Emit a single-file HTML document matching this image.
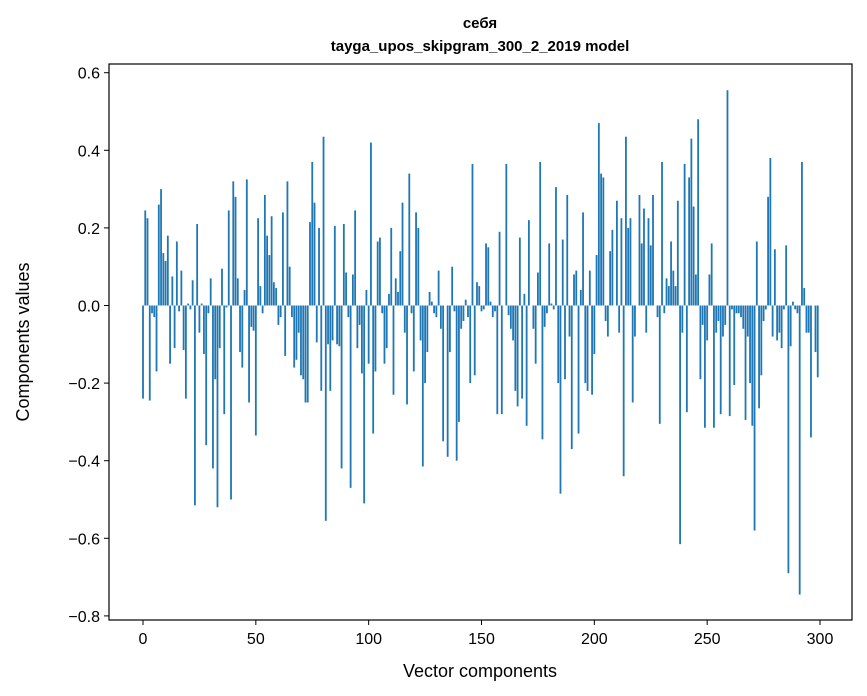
<!DOCTYPE html>
<html><head><meta charset="utf-8"><style>
body{margin:0;background:#fff;}
svg{display:block;font-family:"Liberation Sans","DejaVu Sans",sans-serif;}
</style></head><body>
<svg id="chart" width="867" height="696">
<text x="480" y="28" text-anchor="middle" font-size="15" font-weight="bold">себя</text>
<text x="480" y="51" text-anchor="middle" font-size="15" font-weight="bold">tayga_upos_skipgram_300_2_2019 model</text>
<g id="bars"></g>
<g id="axes"></g>
<text x="480" y="677" text-anchor="middle" font-size="18">Vector components</text>
<text transform="translate(29,342) rotate(-90)" text-anchor="middle" font-size="18">Components values</text>
</svg>
<script>
const values = [
-0.24,0.245,0.225,-0.245,-0.02,-0.03,-0.17,0.26,0.30,0.135,
0.115,0.18,-0.15,0.075,-0.11,0.165,-0.015,0.09,-0.115,-0.24,
0.005,-0.01,0.065,-0.515,0.21,-0.07,0.005,-0.125,-0.36,-0.02,
0.07,-0.42,-0.19,-0.52,-0.11,0.095,-0.28,-0.005,0.245,-0.50,
0.32,0.28,0.07,-0.12,-0.16,0.04,0.325,-0.25,-0.055,-0.065,
-0.335,0.225,0.05,-0.02,0.285,0.18,0.13,0.23,0.06,0.045,
-0.05,-0.03,0.24,-0.13,0.32,0.10,-0.03,-0.16,-0.14,-0.07,
-0.18,-0.19,-0.25,-0.25,0.215,0.37,0.265,-0.095,0.2,-0.22,
0.435,-0.555,-0.1,-0.22,-0.09,0.205,-0.1,-0.105,-0.42,0.21,
0.085,-0.03,-0.47,0.08,0.245,-0.11,-0.05,-0.175,-0.51,0.04,
-0.15,0.42,-0.33,-0.17,0.165,0.175,-0.02,-0.15,-0.11,0.03,
0.2,-0.23,0.07,0.035,0.14,0.265,-0.07,-0.255,0.34,-0.02,
-0.17,0.24,0.2,-0.09,-0.415,-0.2,-0.12,0.035,0.01,-0.02,
-0.03,0.09,-0.06,-0.35,0.0,-0.39,-0.12,0.1,-0.015,-0.40,
-0.3,-0.06,-0.04,0.015,-0.03,-0.2,0.365,-0.18,0.06,0.05,
-0.015,-0.01,0.16,0.15,0.01,-0.03,-0.015,-0.28,0.19,-0.28,
0.0,0.365,-0.025,-0.06,-0.09,-0.22,-0.26,0.175,-0.24,0.03,
-0.31,0.22,0.0,-0.06,-0.15,0.085,0.37,-0.345,-0.055,-0.02,
0.16,0.005,-0.01,0.305,-0.2,-0.485,0.17,-0.19,0.285,-0.08,
-0.37,0.08,0.09,-0.33,0.04,0.24,-0.2,-0.22,0.09,-0.23,
-0.125,0.13,0.47,0.34,0.33,-0.04,-0.08,0.14,0.195,0.0,
0.27,-0.07,0.225,-0.44,0.435,0.2,0.225,-0.25,-0.08,0.0,
0.285,0.16,0.25,-0.07,0.225,0.155,0.285,0.0,-0.03,-0.305,
0.37,-0.02,0.07,0.05,0.165,0.09,0.05,0.27,-0.615,-0.07,
0.365,-0.275,0.33,0.43,0.255,0.08,0.48,-0.19,-0.05,-0.315,
-0.09,0.08,0.16,-0.315,-0.07,-0.04,-0.28,-0.08,-0.05,0.555,
-0.285,-0.01,-0.205,-0.02,-0.02,-0.03,-0.06,-0.295,-0.08,-0.2,
-0.31,-0.58,0.165,-0.265,-0.18,-0.04,-0.01,0.28,0.38,-0.08,
0.145,-0.09,-0.07,-0.11,-0.01,0.155,-0.69,-0.105,0.01,-0.01,
-0.02,-0.745,0.37,0.045,-0.07,-0.07,-0.34,0.0,-0.12,-0.185
];
const xTicks = [0,50,100,150,200,250,300];
const yTicks = [0.6,0.4,0.2,0.0,-0.2,-0.4,-0.6,-0.8];
const yTickLabels = ["0.6","0.4","0.2","0.0","\u22120.2","\u22120.4","\u22120.6","\u22120.8"];

const L=109,R=852,T=64,B=620;
const xs = v => 143 + v*(820-143)/300;
const ys = v => 305.5 - v*388;
const NS="http://www.w3.org/2000/svg";
const bars=document.getElementById('bars');
values.forEach((v,i)=>{
  const r=document.createElementNS(NS,'rect');
  const w=0.8*(820-143)/300;
  r.setAttribute('x',xs(i)-w/2);
  r.setAttribute('y',Math.min(ys(v),ys(0)));
  r.setAttribute('width',w);
  r.setAttribute('height',Math.abs(ys(v)-ys(0)));
  r.setAttribute('fill','#1f77b4');
  
  
  bars.appendChild(r);
});
const ax=document.getElementById('axes');
const frame=document.createElementNS(NS,'rect');
frame.setAttribute('x',L);frame.setAttribute('y',T);
frame.setAttribute('width',R-L);frame.setAttribute('height',B-T);
frame.setAttribute('fill','none');frame.setAttribute('stroke','#000');frame.setAttribute('stroke-width','1.2');


ax.appendChild(frame);
xTicks.forEach(t=>{
  const l=document.createElementNS(NS,'line');
  l.setAttribute('x1',xs(t));l.setAttribute('x2',xs(t));l.setAttribute('y1',B);l.setAttribute('y2',B+5);
  l.setAttribute('stroke','#000');
  
  
  ax.appendChild(l);
  const tx=document.createElementNS(NS,'text');
  tx.setAttribute('x',xs(t));tx.setAttribute('y',B+24);tx.setAttribute('text-anchor','middle');tx.setAttribute('font-size','16');
  tx.textContent=t;
  
  
  ax.appendChild(tx);
});
yTicks.forEach((t,i)=>{
  const l=document.createElementNS(NS,'line');
  l.setAttribute('x1',L-5);l.setAttribute('x2',L);l.setAttribute('y1',ys(t));l.setAttribute('y2',ys(t));
  l.setAttribute('stroke','#000');
  
  
  ax.appendChild(l);
  const tx=document.createElementNS(NS,'text');
  tx.setAttribute('x',L-9);tx.setAttribute('y',ys(t)+6);tx.setAttribute('text-anchor','end');tx.setAttribute('font-size','16');
  tx.textContent=yTickLabels[i];
  
  
  ax.appendChild(tx);
});
</script>
</body></html>
